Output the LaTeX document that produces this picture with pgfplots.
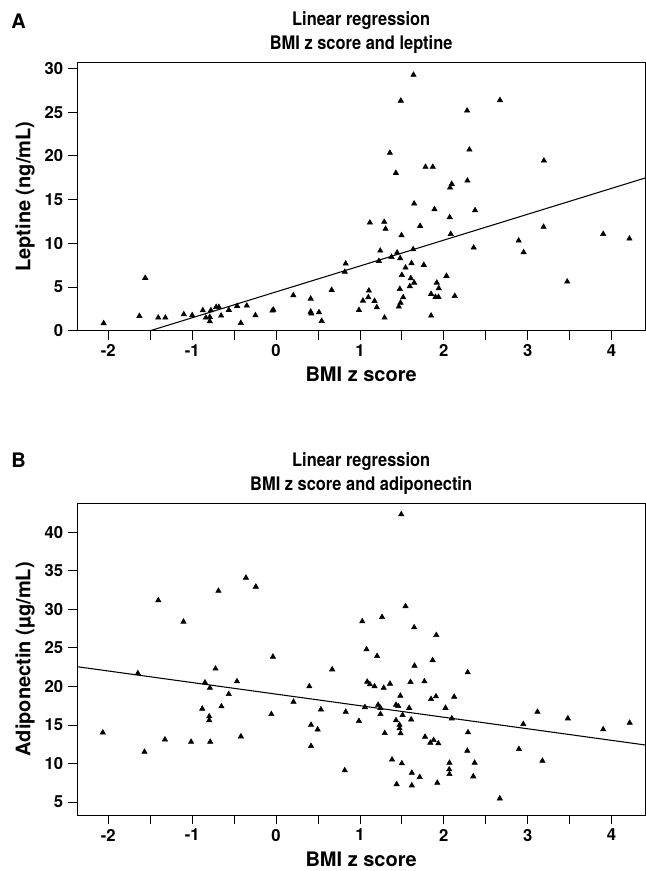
\documentclass[border=0pt]{standalone}
\usepackage{fontspec}
\setmainfont{TeX Gyre Heros}
\newfontfamily\titlefont[FakeStretch=0.88]{TeX Gyre Heros}
\usepackage{pgfplots}
\pgfplotsset{compat=1.18}
\pgfplotsset{
  myaxis/.style={
    scale only axis,
    width=425.8pt,
    xmin=-2.37, xmax=4.4,
    axis line style={line width=0.8pt},
    tick style={line width=0.6pt, black},
    tick align=outside,
    major tick length=7pt,
    minor tick length=7pt,
    xtick={-2,-1,0,1,2,3,4},
    minor xtick={-1.5,-0.5,0.5,1.5,2.5,3.5},
    xtick pos=bottom, ytick pos=left,
    /pgf/number format/assume math mode=true,
    tick label style={font=\fontsize{12.5}{14}\selectfont\bfseries},
    label style={font=\fontsize{15}{17}\selectfont\bfseries},
    title style={font=\titlefont\fontsize{14}{18}\selectfont\bfseries, align=center, yshift=-3pt},
    xlabel={BMI z score},
    xlabel style={at={(axis description cs:0.5,0)}, anchor=center, yshift=-33pt},
    ylabel style={at={(axis description cs:-0.0921,0.5)}, anchor=center, rotate=0},
    xticklabel={\pgfmathprintnumber{\tick}},
    clip=true,
  },
  scat/.style={only marks, mark=triangle*, mark size=2.3pt, black},
}
\begin{document}
\begin{tikzpicture}
\path[use as bounding box] (0pt,0pt) rectangle (484.5pt,-653.25pt);
% Panel A
\begin{axis}[myaxis,
  at={(57.975pt,-47.025pt)}, anchor=north west,
  height=201pt,
  ymin=0, ymax=30.65,
  ytick={0,5,10,15,20,25,30},
  ylabel={Leptine (ng/mL)},
  title={Linear regression\\BMI z score and leptine},
]
\addplot[scat] coordinates {
(-2.056,0.85) (-1.63,1.68) (-1.56,6.03) (-1.405,1.49) (-1.32,1.49) (-1.10,1.87)
(-1.00,1.76) (-0.873,2.33) (-0.837,1.49) (-0.79,1.07) (-0.79,1.57) (-0.777,2.33)
(-0.714,2.71) (-0.682,2.71) (-0.655,1.72) (-0.563,2.37) (-0.464,2.83) (-0.42,0.88)
(-0.349,2.86) (-0.246,1.76) (-0.044,2.29) (-0.032,2.4) (0.206,4.05) (0.413,3.66)
(0.413,2.17) (0.42,1.95) (0.512,2.1) (0.544,1.11) (0.663,4.66) (0.83,7.67)
(0.82,6.72) (0.988,2.37) (1.036,3.43) (1.10,3.82) (1.107,4.58) (1.175,3.4)
(1.202,2.68) (1.119,12.36) (1.242,9.15) (1.226,7.97) (1.29,12.44) (1.306,11.64)
(1.294,1.49) (1.357,20.33) (1.429,18.04) (1.377,8.43) (1.444,8.93) (1.48,8.28)
(1.488,26.3) (1.496,10.91) (1.639,29.26) (1.647,14.53) (1.635,9.31) (1.544,7.21)
(1.5,6.37) (1.615,7.71) (1.607,6.0) (1.647,5.49) (1.595,5.08) (1.476,4.77)
(1.516,3.82) (1.484,3.2) (1.464,2.75) (1.718,11.98) (1.782,18.73) (1.869,18.73)
(1.889,13.89) (1.762,7.52) (1.849,1.72) (1.849,4.2) (1.917,5.49) (1.94,4.85)
(1.901,3.86) (1.937,3.86) (2.032,6.26) (2.095,16.78) (2.075,16.36) (2.071,12.97)
(2.083,11.06) (2.131,3.97) (2.278,25.17) (2.306,20.71) (2.282,17.16) (2.373,13.77)
(2.357,9.5) (2.67,26.36) (2.893,10.3) (2.952,8.97) (3.194,19.45) (3.19,11.87)
(3.472,5.61) (3.901,11.06) (4.214,10.53)
};
\addplot[black, line width=0.8pt] coordinates {(-1.5,0) (4.4,17.46)};
\end{axis}
% Panel B
\begin{axis}[myaxis,
  at={(57.975pt,-377.475pt)}, anchor=north west,
  height=233.8pt,
  ymin=3.3, ymax=43.77,
  ytick={5,10,15,20,25,30,35,40},
  ylabel={Adiponectin (µg/mL)},
  title={Linear regression\\BMI z score and adiponectin},
]
\addplot[scat] coordinates {
(-2.066,14.0) (-1.648,21.7) (-1.569,11.5) (-1.404,31.17) (-1.325,13.1) (-1.104,28.4)
(-1.013,12.8) (-0.88,17.1) (-0.848,20.5) (-0.789,19.8) (-0.797,16.1) (-0.797,15.6)
(-0.785,12.8) (-0.722,22.3) (-0.687,32.4) (-0.651,17.4) (-0.564,19.0) (-0.466,20.65)
(-0.419,13.5) (-0.359,34.1) (-0.241,32.94) (-0.037,23.85) (-0.056,16.4) (0.208,18.0)
(0.397,20.0) (0.417,15.0) (0.496,14.4) (0.417,12.25) (0.535,17.0) (0.669,22.2)
(0.819,9.1) (0.831,16.7) (0.988,15.5) (1.028,28.44) (1.079,24.8) (1.06,17.3)
(1.087,20.6) (1.119,20.26) (1.174,20.0) (1.205,23.94) (1.217,17.6) (1.245,16.4)
(1.245,17.2) (1.264,29.0) (1.284,19.8) (1.296,13.93) (1.359,20.34) (1.383,10.5)
(1.43,17.6) (1.458,17.44) (1.43,15.6) (1.438,7.3) (1.482,18.78) (1.473,15.0)
(1.473,14.55) (1.485,13.9) (1.493,42.34) (1.5,10.0) (1.509,16.27) (1.544,30.4)
(1.588,17.2) (1.603,20.56) (1.611,15.7) (1.619,8.78) (1.619,7.14) (1.647,27.66)
(1.651,22.68) (1.713,8.22) (1.769,20.65) (1.777,13.45) (1.84,12.68) (1.848,18.35)
(1.867,23.4) (1.879,13.03) (1.907,18.7) (1.911,26.66) (1.923,7.48) (1.935,12.6)
(2.021,17.2) (2.124,18.65) (2.096,15.84) (2.068,10.08) (2.065,9.22) (2.068,8.61)
(2.285,21.82) (2.289,14.03) (2.281,11.64) (2.368,10.08) (2.352,8.31) (2.668,5.45)
(2.896,11.86) (2.948,15.1) (3.117,16.7) (3.176,10.34) (3.48,15.84) (3.901,14.42)
(4.217,15.27)
};
\addplot[black, line width=0.8pt] coordinates {(-2.37,22.555) (4.4,12.4)};
\end{axis}
\node[font=\fontsize{15}{17}\selectfont\bfseries, anchor=center] at (14pt,-16pt) {A};
\node[font=\fontsize{15}{17}\selectfont\bfseries, anchor=center] at (14pt,-345pt) {B};
\end{tikzpicture}
\end{document}
